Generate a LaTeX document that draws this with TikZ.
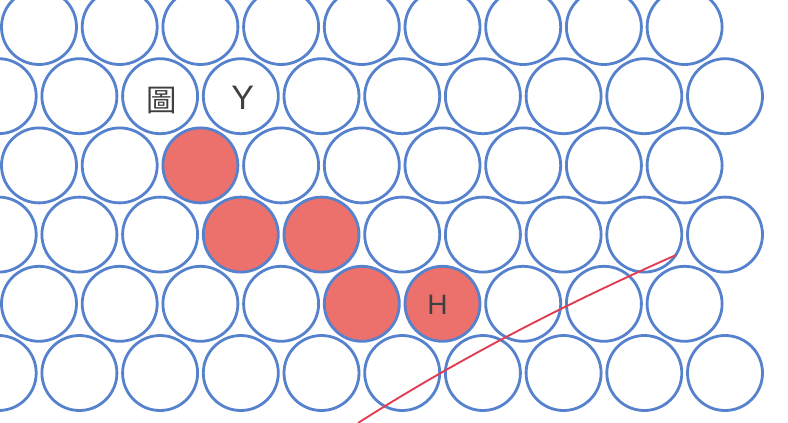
\documentclass[tikz,border=0pt]{standalone}
\usepackage{fontspec}
\setmainfont{Liberation Sans}
\newfontfamily\cjk{Noto Sans CJK TC}
\definecolor{rim}{HTML}{5682CD}
\definecolor{hit}{HTML}{EC706C}
\definecolor{cut}{HTML}{E23C52}
\definecolor{ink}{HTML}{404040}

\begin{document}
\begin{tikzpicture}[x=0.03cm, y=-0.03cm,
    ball/.style={circle, draw=rim, line width=2.4pt, fill=white,
                 minimum size=2.25cm, inner sep=0pt, outer sep=0pt},
    taken/.style={fill=hit},
    c22/.style={taken}, c33/.style={taken}, c34/.style={taken},
    c44/.style={taken}, c45/.style={taken},
    txt/.style={text=ink, inner sep=0pt}]
  \useasboundingbox (0,0) rectangle (788,422);
  \clip (0,0) rectangle (788,422);
  % rows of the packing
  \foreach \r/\xs/\n in {0/39/8, 1/-1.3/9, 2/39/8, 3/-1.3/9, 4/39/8, 5/-1.3/9}
    \foreach \k in {0,...,\n}
      \node[ball, c\r\k/.try] (c\r\k) at (\xs+\k*80.7, 27+\r*69.2) {};
  % labels
  \node[txt, font=\cjk\fontsize{26}{26}\selectfont] (tu) at ([shift={(2,4)}]c12) {圖};
  \node[txt, font=\fontsize{29}{29}\selectfont] (ya) at ([shift={(2,2)}]c13) {Y};
  \node[txt, font=\fontsize{24}{24}\selectfont] (ha) at ([shift={(-5,1)}]c45) {H};
  % crossing line
  \draw[cut, line width=1.6pt] (358,423) .. controls (463,356) and (570,302) .. (676,255);
\end{tikzpicture}
\end{document}
